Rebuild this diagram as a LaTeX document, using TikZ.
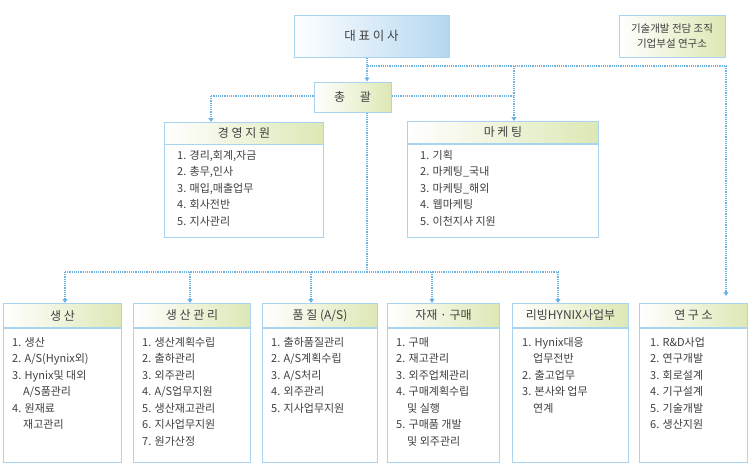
\documentclass[tikz,border=0pt]{standalone}
\usepackage{fontspec}
\setmainfont{Noto Sans CJK KR}
\usetikzlibrary{arrows.meta}
\definecolor{bd}{HTML}{A9D3EE}
\definecolor{ln}{HTML}{6CB2E2}
\definecolor{gr}{HTML}{DDE8B5}
\definecolor{bl}{HTML}{B5D8F0}
\definecolor{tx}{HTML}{404040}
\tikzset{
 hdr/.style={draw=bd,line width=1pt,left color=white,right color=gr,text=tx,font=\fontsize{12}{13}\selectfont},
 topbox/.style={draw=bd,line width=1pt,left color=white,right color=bl,text=tx,font=\fontsize{12.5}{13}\selectfont},
 bodybox/.style={draw=bd,line width=1pt,fill=white},
 lst/.style={anchor=north west,align=left,text=tx,font=\fontsize{11}{16.5}\selectfont,inner sep=0pt},
 con/.style={ln,line width=1.2pt,densely dotted},
 arr/.style={con,-{Triangle[width=5pt,length=4pt]}},
}
\begin{document}
\begin{tikzpicture}[x=1pt,y=-1pt]
\useasboundingbox (0,0) rectangle (750,463);
% top
\node[topbox,minimum width=155,minimum height=42] (ceo) at (371.5,36) {대 표 이 사};
\node[hdr,minimum width=106,minimum height=42,align=center,font=\fontsize{10.5}{15}\selectfont] (note) at (672,36) {기술개발 전담 조직\\기업부설 연구소};
\node[hdr,minimum width=77,minimum height=30] (gen) at (352.5,97) {총 \quad 괄};
% mid
\node[hdr,minimum width=159,minimum height=22,anchor=north west] (mgmt) at (164,122) {경 영 지 원};
\node[bodybox,minimum width=159,minimum height=93,anchor=north west] (mgmtb) at (164,144) {};
\node[lst] at (177,150) {1. 경리,회계,자금\\2. 총무,인사\\3. 매입,매출업무\\4. 회사전반\\5. 지사관리};
\node[hdr,minimum width=191,minimum height=22,anchor=north west] (mkt) at (407,121) {마 케 팅};
\node[bodybox,minimum width=191,minimum height=93,anchor=north west] (mktb) at (407,144) {};
\node[lst] at (420,150) {1. 기획\\2. 마케팅\_국내\\3. 마케팅\_해외\\4. 웹마케팅\\5. 이천지사 지원};
% bottom
\foreach \n/\x/\w/\t in {p1/3/118/{생 산},p2/133/117/{생 산 관 리},p3/262/115/{품 질 (A/S)},p4/387/112/{자재 · 구매},p5/512/116/{리빙HYNIX사업부},p6/639/108/{연 구 소}}{
 \node[hdr,minimum width=\w,minimum height=24,anchor=north west] (\n) at (\x,303) {\t};
 \node[bodybox,minimum width=\w,minimum height=134,anchor=north west] (\n b) at (\x,328) {};
}
\node[lst] at (12,337) {1. 생산\\2. A/S(Hynix외)\\3. Hynix및 대외\\\quad A/S품관리\\4. 원재료\\\quad 재고관리};
\node[lst] at (142,337) {1. 생산계획수립\\2. 출하관리\\3. 외주관리\\4. A/S업무지원\\5. 생산재고관리\\6. 지사업무지원\\7. 원가산정};
\node[lst] at (271,337) {1. 출하품질관리\\2. A/S계획수립\\3. A/S처리\\4. 외주관리\\5. 지사업무지원};
\node[lst] at (396,337) {1. 구매\\2. 재고관리\\3. 외주업체관리\\4. 구매계획수립\\\quad 및 실행\\5. 구매품 개발\\\quad 및 외주관리};
\node[lst] at (522,337) {1. Hynix대응\\\quad 업무전반\\2. 출고업무\\3. 본사와 업무\\\quad 연계};
\node[lst] at (650,337) {1. R\&D사업\\2. 연구개발\\3. 회로설계\\4. 기구설계\\5. 기술개발\\6. 생산지원};
% connectors
\coordinate (j1) at (367,66);
\coordinate (j2) at (514,66);
\coordinate (j3) at (726,66);
\coordinate (g1) at (211,96);
\coordinate (g2) at (514,96);
\coordinate (b0) at (367,272);
\draw[con] (ceo.south -| j1) -- (j1) -- (j3);
\draw[arr] (j1) -- (gen.north -| j1);
\draw[arr] (j2) -- (mkt.north -| j2);
\draw[arr] (j3) -- ++(0,230) coordinate (j3e);
\draw[con] (gen.west |- g1) -- (g1);
\draw[arr] (g1) -- (mgmt.north -| g1);
\draw[con] (gen.east |- g2) -- (g2);
\draw[con] (gen.south -| b0) -- (b0);
\coordinate (bl) at (65,272);
\coordinate (br) at (558,272);
\draw[con] (bl) -- (br);
\foreach \x/\n in {65/p1,190/p2,311/p3,432/p4,558/p5}{
 \draw[arr] (\x,272) -- (\n.north -| \x,0);
}
\end{tikzpicture}
\end{document}
